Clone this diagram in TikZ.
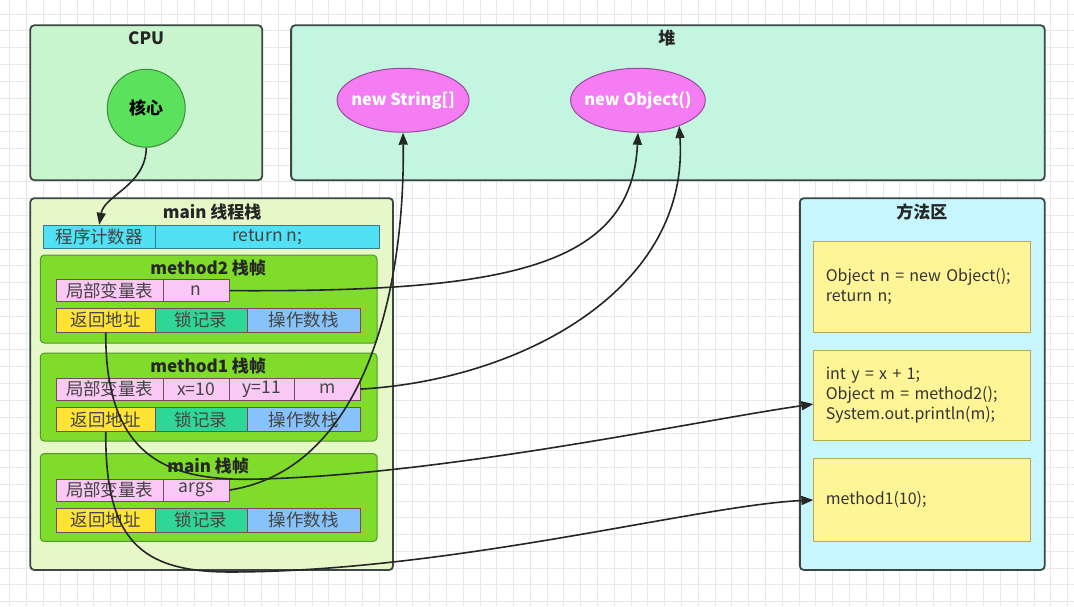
\documentclass[tikz,border=0pt]{standalone}
\usepackage{fontspec}
\setmainfont{Noto Sans CJK SC}
\usetikzlibrary{arrows.meta,shapes.geometric}
\definecolor{gridgray}{HTML}{E8E8E8}
\definecolor{boxline}{HTML}{3A4744}
\definecolor{cpubg}{HTML}{C8F5CD}
\definecolor{heapbg}{HTML}{C3F5E1}
\definecolor{stackbg}{HTML}{E6F8C8}
\definecolor{methbg}{HTML}{C8F6FF}
\definecolor{corefill}{HTML}{5BE15B}
\definecolor{coreline}{HTML}{3C8C3C}
\definecolor{objfill}{HTML}{F47DF4}
\definecolor{objline}{HTML}{9A4A9A}
\definecolor{framefill}{HTML}{7FDC2A}
\definecolor{frameline}{HTML}{4E9A2A}
\definecolor{pcfill}{HTML}{50E1F5}
\definecolor{pcline}{HTML}{2E7F90}
\definecolor{varfill}{HTML}{FAC8F5}
\definecolor{varline}{HTML}{7A4A5A}
\definecolor{retfill}{HTML}{FFE433}
\definecolor{lockfill}{HTML}{2DD796}
\definecolor{opfill}{HTML}{87C3FA}
\definecolor{codefill}{HTML}{FFF596}
\definecolor{codeline}{HTML}{B8A850}
\definecolor{celltext}{HTML}{444444}
\tikzset{gridline/.style={draw=gridgray, line width=0.6pt}}
\tikzset{areabox/.style={draw=boxline, line width=1.8pt, rounded corners=4pt}}
\tikzset{areatitle/.style={font=\fontsize{17}{20}\selectfont\bfseries, text=black!85}}
\tikzset{framebox/.style={draw=frameline, fill=framefill, line width=1pt, rounded corners=4pt, minimum width=337, minimum height=88}}
\tikzset{cell/.style={draw=varline, line width=0.8pt, inner sep=0pt, minimum height=22, font=\fontsize{17.5}{20}\selectfont, text=celltext}}
\tikzset{varcell/.style={cell, fill=varfill}}
\tikzset{retcell/.style={cell, fill=retfill, minimum width=99, minimum height=24}}
\tikzset{lockcell/.style={cell, fill=lockfill, minimum width=92, minimum height=24}}
\tikzset{opcell/.style={cell, fill=opfill, minimum width=113, minimum height=24}}
\tikzset{corenode/.style={shape=circle, draw=coreline, fill=corefill, line width=1pt, minimum size=78, inner sep=0pt, font=\fontsize{17}{20}\selectfont\bfseries}}
\tikzset{objnode/.style={shape=ellipse, draw=objline, fill=objfill, line width=1pt, minimum width=132, minimum height=64, inner xsep=-6pt, inner ysep=0pt, text=white, font=\fontsize{16.5}{19}\selectfont\bfseries}}
\tikzset{codebox/.style={draw=codeline, fill=codefill, line width=1pt, minimum width=217, text width=193, inner xsep=12pt, align=left, text=black!80, font=\fontsize{16}{20}\selectfont}}
\tikzset{arrowline/.style={draw=black!85, line width=1.6pt, -{Triangle[length=12pt,width=9pt]}}}

\begin{document}
\begin{tikzpicture}[x=1pt,y=-1pt]
\fill[white] (0,0) rectangle (1074,606);
\foreach \i in {0,...,63} \draw[gridline] ({9.4+16.8*\i},0) -- ({9.4+16.8*\i},606);
\foreach \i in {0,...,35} \draw[gridline] (0,{13.6+16.8*\i}) -- (1074,{13.6+16.8*\i});
\useasboundingbox (0,0) rectangle (1074,606);

\node[areabox, fill=cpubg, minimum width=232, minimum height=155] (cpu) at (146,102.5) {};
\node[areatitle] (cputitle) at (146,38) {CPU};
\node[corenode] (core) at (146,108) {核心};

\node[areabox, fill=heapbg, minimum width=754, minimum height=155] (heap) at (668,102.5) {};
\node[areatitle] (heaptitle) at (667,38) {堆};
\node[objnode] (strarr) at (403,100) {new String[]};
\node[objnode] (obj) at (638,100) {new Object()};

\node[areabox, fill=stackbg, minimum width=363, minimum height=372] (stack) at (211.5,384) {};
\node[areatitle] (stacktitle) at (212,212) {main 线程栈};
\node[cell, fill=pcfill, draw=pcline, minimum width=112, minimum height=23] (pc) at (99,236.5) {程序计数器};
\node[cell, fill=pcfill, draw=pcline, minimum width=224, minimum height=23] (pcval) at (267,236.5) {return n;};

\node[framebox] (m2frame) at (208.5,299) {};
\node[areatitle] (m2title) at (208,268) {method2 栈帧};
\node[varcell, minimum width=107] (m2vars) at (109.5,290.5) {局部变量表};
\node[varcell, minimum width=66] (m2n) at (196,290.5) {n};
\node[retcell] (m2ret) at (105.5,320) {返回地址};
\node[lockcell] (m2lock) at (201,320) {锁记录};
\node[opcell] (m2op) at (303.5,320) {操作数栈};

\node[framebox] (m1frame) at (208.5,397) {};
\node[areatitle] (m1title) at (208,366) {method1 栈帧};
\node[varcell, minimum width=107] (m1vars) at (109.5,389) {局部变量表};
\node[varcell, minimum width=66] (m1x) at (196,389) {x=10};
\node[varcell, minimum width=65] (m1y) at (261.5,389) {y=11};
\node[varcell, minimum width=66] (m1m) at (327,389) {m};
\node[retcell] (m1ret) at (105.5,419.5) {返回地址};
\node[lockcell] (m1lock) at (201,419.5) {锁记录};
\node[opcell] (m1op) at (303.5,419.5) {操作数栈};

\node[framebox] (mainframe) at (208.5,497.5) {};
\node[areatitle] (maintitle) at (208,466) {main 栈帧};
\node[varcell, minimum width=107] (mainvars) at (109.5,490) {局部变量表};
\node[varcell, minimum width=66] (args) at (196,490) {args};
\node[retcell] (mainret) at (105.5,520) {返回地址};
\node[lockcell] (mainlock) at (201,520) {锁记录};
\node[opcell] (mainop) at (303.5,520) {操作数栈};

\node[areabox, fill=methbg, minimum width=245, minimum height=372] (meth) at (922.5,384) {};
\node[areatitle] (methtitle) at (922,212) {方法区};
\node[codebox, minimum height=91] (code1) at (922.5,286.5) {Object n = new Object();\\return n;};
\node[codebox, minimum height=90] (code2) at (922.5,395) {int y = x + 1;\\Object m = method2();\\System.out.println(m);};
\node[codebox, minimum height=84] (code3) at (922.5,500) {method1(10);};

\draw[arrowline] (core.south) .. controls (146,185) and (104,195) .. (pc.north);
\draw[arrowline] (args.east) .. controls (360,470) and (405,300) .. (strarr.south);
\draw[arrowline] (m2n.east) .. controls (500,292) and (632,270) .. (obj.south);
\draw[arrowline] (m1m.east) .. controls (520,380) and (690,290) .. (obj.-32);
\draw[arrowline] (m2ret.south) .. controls (105,460) and (170,482) .. (260,479) .. controls (450,474) and (700,420) .. ([yshift=-9pt]code2.west);
\draw[arrowline] (m1ret.south) .. controls (105,540) and (140,572) .. (230,572) .. controls (450,572) and (700,505) .. (code3.west);
\end{tikzpicture}
\end{document}
